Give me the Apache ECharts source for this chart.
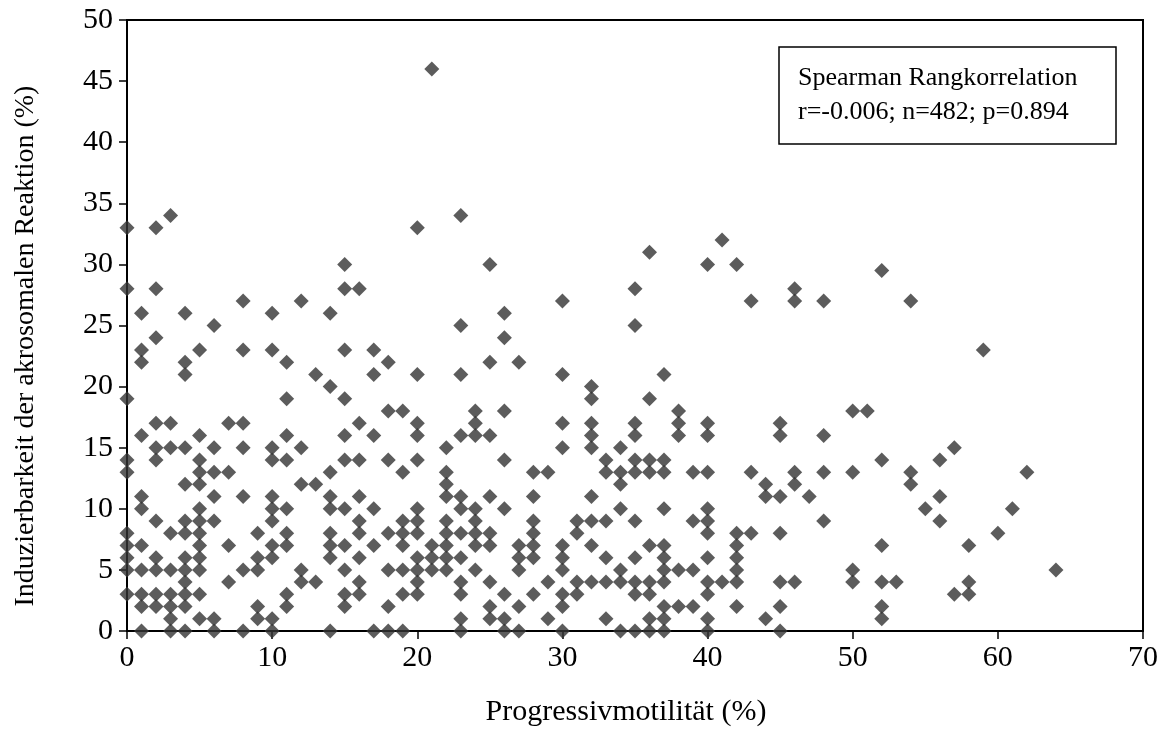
<!DOCTYPE html>
<html>
<head>
<meta charset="utf-8">
<script src="https://cdn.jsdelivr.net/npm/echarts@6/dist/echarts.min.js"></script>
<style>html,body{margin:0;padding:0;background:#fff}#c{width:1171px;height:755px}</style>
</head>
<body>
<div id="c"></div>
<script>
// Progressivmotilität (x) with the list of Induzierbarkeit values (y) seen at that x
const columns = [
  [0, [33, 28, 19, 14, 13, 8, 7, 6, 5, 3]],
  [1, [26, 23, 22, 16, 11, 10, 7, 5, 3, 2, 0]],
  [2, [33, 28, 24, 17, 15, 14, 9, 6, 5, 3, 2]],
  [3, [34, 17, 15, 8, 5, 3, 2, 1, 0]],
  [4, [26, 22, 21, 15, 12, 9, 8, 6, 5, 4, 3, 2, 0]],
  [5, [23, 16, 14, 13, 12, 10, 9, 8, 7, 6, 5, 3, 1]],
  [6, [25, 15, 13, 11, 9, 1, 0]],
  [7, [17, 13, 7, 4]],
  [8, [27, 23, 17, 15, 11, 5, 0]],
  [9, [8, 6, 5, 2, 1]],
  [10, [26, 23, 15, 14, 11, 10, 9, 7, 6, 1, 0]],
  [11, [22, 19, 16, 14, 10, 8, 7, 3, 2]],
  [12, [27, 15, 12, 5, 4]],
  [13, [21, 12, 4]],
  [14, [26, 20, 13, 11, 10, 8, 7, 6, 0]],
  [15, [30, 28, 23, 19, 16, 14, 10, 7, 5, 3, 2]],
  [16, [28, 17, 14, 11, 9, 8, 6, 4, 3]],
  [17, [23, 21, 16, 10, 7, 0]],
  [18, [22, 18, 14, 8, 5, 2, 0]],
  [19, [18, 13, 9, 8, 7, 5, 3, 0]],
  [20, [33, 21, 17, 16, 14, 10, 9, 8, 6, 5, 4, 3]],
  [21, [46, 7, 6, 5]],
  [22, [15, 13, 12, 11, 9, 8, 7, 6, 5]],
  [23, [34, 25, 21, 16, 11, 10, 8, 6, 4, 3, 1, 0]],
  [24, [18, 17, 16, 10, 9, 8, 7, 5]],
  [25, [30, 22, 16, 11, 8, 7, 4, 2, 1]],
  [26, [26, 24, 18, 14, 10, 3, 1, 0]],
  [27, [22, 7, 6, 5, 2, 0]],
  [28, [13, 11, 9, 8, 7, 6, 3]],
  [29, [13, 4, 1]],
  [30, [27, 21, 17, 15, 7, 6, 5, 3, 2, 0]],
  [31, [9, 8, 4, 3]],
  [32, [20, 19, 17, 16, 15, 11, 9, 7, 4]],
  [33, [14, 13, 9, 6, 4, 1]],
  [34, [15, 13, 12, 10, 5, 4, 0]],
  [35, [28, 25, 17, 16, 14, 13, 9, 6, 4, 3, 0]],
  [36, [31, 19, 14, 13, 7, 4, 3, 1, 0]],
  [37, [21, 14, 13, 10, 7, 6, 5, 4, 2, 1, 0]],
  [38, [18, 17, 16, 5, 2]],
  [39, [13, 9, 5, 2]],
  [40, [30, 17, 16, 13, 10, 9, 8, 6, 4, 3, 1, 0]],
  [41, [32, 4]],
  [42, [30, 8, 7, 6, 5, 4, 2]],
  [43, [27, 13, 8]],
  [44, [12, 11, 1]],
  [45, [17, 16, 11, 8, 4, 2, 0]],
  [46, [28, 27, 13, 12, 4]],
  [47, [11]],
  [48, [27, 16, 13, 9]],
  [50, [18, 13, 5, 4]],
  [51, [18]],
  [52, [29.5, 14, 7, 4, 2, 1]],
  [53, [4]],
  [54, [27, 13, 12]],
  [55, [10]],
  [56, [14, 11, 9]],
  [57, [15, 3]],
  [58, [7, 4, 3]],
  [59, [23]],
  [60, [8]],
  [61, [10]],
  [62, [13]],
  [64, [5]]
];
const xTicks = [0, 10, 20, 30, 40, 50, 60, 70];
const yTicks = [0, 5, 10, 15, 20, 25, 30, 35, 40, 45, 50];
const xTitle = 'Progressivmotilität (%)';
const yTitle = 'Induzierbarkeit der akrosomalen Reaktion (%)';
const boxLines = ['Spearman Rangkorrelation', 'r=-0.006; n=482; p=0.894'];

const points = [];
columns.forEach(([x, ys]) => ys.forEach(y => points.push([x, y])));

const font = '"Liberation Serif", "Times New Roman", serif';
const chart = echarts.init(document.getElementById('c'), null, {renderer: 'canvas'});
chart.setOption({
  animation: false,
  backgroundColor: '#fff',
  grid: {left: 127, right: 28, top: 20, bottom: 124, show: true, borderColor: '#000', borderWidth: 2, backgroundColor: 'transparent'},
  xAxis: {
    type: 'value', min: xTicks[0], max: xTicks[xTicks.length - 1], interval: 10,
    axisLine: {lineStyle: {color: '#000', width: 2}},
    axisTick: {show: true, inside: false, length: 8, lineStyle: {color: '#000', width: 1.5}},
    axisLabel: {fontFamily: font, fontSize: 30, color: '#000', margin: 12},
    splitLine: {show: false}
  },
  yAxis: {
    type: 'value', min: yTicks[0], max: yTicks[yTicks.length - 1], interval: 5,
    axisLine: {lineStyle: {color: '#000', width: 2}},
    axisTick: {show: true, inside: false, length: 8, lineStyle: {color: '#000', width: 1.5}},
    axisLabel: {fontFamily: font, fontSize: 30, color: '#000', margin: 14},
    splitLine: {show: false}
  },
  series: [{
    type: 'scatter',
    data: points,
    symbol: 'diamond',
    symbolSize: 15,
    itemStyle: {color: '#333333'},
    clip: false
  }],
  graphic: [
    {type: 'rect', shape: {x: 779, y: 47, width: 337, height: 97}, style: {fill: '#fff', stroke: '#000', lineWidth: 1.5}, z: 100},
    {type: 'text', x: 798, y: 61, style: {text: boxLines.join('\n'), font: '26px ' + font, fill: '#000', lineHeight: 34}, z: 101},
    {type: 'text', x: 626, y: 712, style: {text: xTitle, font: '30px ' + font, fill: '#000', textAlign: 'center', textVerticalAlign: 'middle'}, z: 101},
    {type: 'text', x: 26, y: 346, rotation: Math.PI / 2, style: {text: yTitle, font: '28px ' + font, fill: '#000', textAlign: 'center', textVerticalAlign: 'middle'}, z: 101}
  ]
});
</script>
</body>
</html>
